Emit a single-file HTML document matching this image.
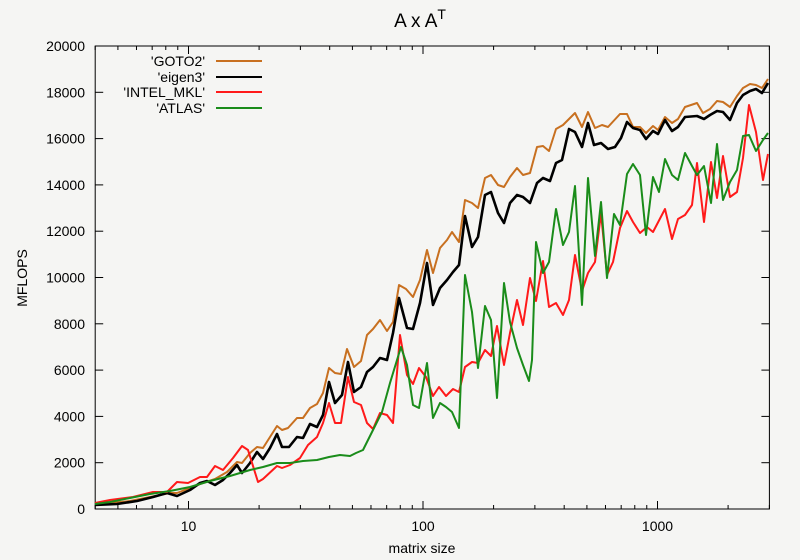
<!DOCTYPE html>
<html><head><meta charset="utf-8"><style>
html,body{margin:0;padding:0;background:#f5f5f3;}
svg{display:block;font-family:"Liberation Sans",Arial,sans-serif;}
</style></head><body>
<svg id="s" width="800" height="560" viewBox="0 0 800 560" xmlns="http://www.w3.org/2000/svg">
<rect width="800" height="560" fill="#f5f5f3"/>
<text x="420" y="27" font-size="19" text-anchor="middle" fill="#000">A x A<tspan dy="-8" font-size="14">T</tspan></text>
<text transform="translate(27,278) rotate(-90)" font-size="14" text-anchor="middle">MFLOPS</text>
<text x="422" y="553" font-size="14" text-anchor="middle">matrix size</text>
<g id="ax" stroke="#000" stroke-width="1" fill="none"></g>
<g id="lab" font-size="14" fill="#000"></g>
<g fill="none" stroke-width="2" stroke-linejoin="round">
<polyline stroke="#c87020" points="95,505 110,503 130,501 150,497 170,493 177,493 190,488 203,483 215,479 227,472 237,462 242,463 250,453 257,447 263,448 270,437 277,426 282,430 288,428 297,418 303,418 310,408 317,404 323,393 329,368 335,373 341,374 347,349 354,367 361,361 367,335 373,329 380,320 387,331 393,322 399,285 406,289 413,297 420,280 427,250 433,273 440,248 447,240 452,232 459,242 465,200 472,203 478,208 485,178 491,175 498,185 504,187 510,177 517,168 523,175 530,173 537,147 543,146 549,151 556,129 563,125 575,113 582,127 588,112 595,128 602,125 608,127 620,114 627,114 633,127 640,127 646,133 653,126 658,130 665,117 672,123 678,119 685,107 697,103 703,113 710,109 717,101 723,102 730,107 737,96 743,88 750,84 756,85 762,88 768,79"/>
<polyline stroke="#000" stroke-width="2.6" points="95,505 117,504 137,501 153,497 167,493 177,496 190,490 200,483 207,481 215,485 223,480 230,473 237,465 242,473 250,463 257,452 263,459 270,448 277,434 282,447 289,447 297,437 303,438 310,424 317,427 323,415 329,382 335,403 342,395 348,362 354,392 361,387 367,372 373,367 380,358 387,360 393,333 399,298 407,328 413,329 420,303 427,263 433,305 440,288 447,280 453,272 459,265 465,216 472,247 478,237 485,195 491,192 498,213 504,223 510,203 517,195 523,197 530,203 537,183 543,178 550,181 556,163 562,160 569,129 575,132 582,147 588,123 594,145 601,143 608,149 615,147 621,138 627,122 633,128 640,130 646,139 653,131 658,134 665,120 672,131 678,127 685,117 697,116 704,119 710,115 717,111 723,112 730,120 737,103 743,95 750,91 756,89 762,93 768,83"/>
<polyline stroke="#ff1a1a" points="95,503 110,500 133,497 153,492 167,492 177,482 188,483 200,477 207,477 215,466 223,470 233,458 242,446 248,450 258,482 263,479 277,466 282,468 290,465 300,458 308,445 317,437 323,423 329,403 335,423 341,423 348,377 354,402 361,405 367,423 373,429 380,413 387,415 393,423 400,335 407,375 413,384 419,368 426,377 433,396 439,387 446,396 453,389 459,392 465,367 472,362 478,363 485,350 491,356 497,326 504,365 510,333 517,300 523,325 530,278 536,301 543,261 549,307 556,303 563,315 569,300 575,255 582,291 588,273 595,262 601,213 607,275 613,262 620,228 627,211 633,222 640,233 647,227 653,232 665,209 672,239 678,219 685,215 692,205 697,163 704,222 711,162 717,198 723,156 730,197 737,192 743,158 749,105 756,132 763,180 768,154"/>
<polyline stroke="#1a8c1a" points="95,504 110,502 130,498 150,494 170,491 190,487 210,481 230,476 250,470 263,467 277,463 290,463 303,461 317,460 329,457 340,455 350,456 356,453 363,450 373,430 382,412 390,383 397,360 401,347 407,365 413,405 419,408 427,363 433,418 440,403 446,407 452,412 459,428 465,275 472,312 478,368 485,306 491,320 497,398 504,283 510,322 517,348 523,365 529,381 532,360 536,242 543,273 549,262 556,209 563,245 569,232 575,186 582,305 588,178 595,256 601,202 607,278 614,214 620,225 627,174 633,164 640,175 646,235 653,177 659,192 665,159 672,175 678,180 685,153 692,166 697,175 704,166 711,203 717,144 723,200 730,182 737,170 743,136 749,135 756,151 763,140 768,133"/>
</g>
<g font-size="14" text-anchor="end">
<text x="205" y="66">'GOTO2'</text>
<text x="205" y="82">'eigen3'</text>
<text x="205" y="97">'INTEL_MKL'</text>
<text x="205" y="113">'ATLAS'</text>
</g>
<g stroke-width="2">
<line x1="216" y1="61" x2="262" y2="61" stroke="#c87020"/>
<line x1="216" y1="77" x2="262" y2="77" stroke="#000"/>
<line x1="216" y1="92" x2="262" y2="92" stroke="#ff1a1a"/>
<line x1="216" y1="108" x2="262" y2="108" stroke="#1a8c1a"/>
</g>
<script>
var L=95.2,R=769.4,T=46,B=509,ns="http://www.w3.org/2000/svg";
var ax=document.getElementById('ax'),lab=document.getElementById('lab');
function ln(x1,y1,x2,y2){var e=document.createElementNS(ns,'line');e.setAttribute('x1',x1);e.setAttribute('y1',y1);e.setAttribute('x2',x2);e.setAttribute('y2',y2);ax.appendChild(e);}
function tx(x,y,s,a){var e=document.createElementNS(ns,'text');e.setAttribute('x',x);e.setAttribute('y',y);e.setAttribute('text-anchor',a);e.textContent=s;lab.appendChild(e);}
var r=document.createElementNS(ns,'rect');r.setAttribute('x',L);r.setAttribute('y',T);r.setAttribute('width',R-L);r.setAttribute('height',B-T);ax.appendChild(r);
for(var i=0;i<=10;i++){var y=B-i*(B-T)/10;ln(L,y,L+8,y);ln(R,y,R-8,y);tx(85,y+5,String(i*2000),'end');}
function X(v){return 188.5+(Math.log10(v)-1)*234.5;}
[1,10,100,1000].forEach(function(d){for(var k=1;k<10;k++){var v=d*k;if(v<4||v>3000)continue;var x=X(v);var len=(k==1)?8:4;ln(x,B,x,B-len);ln(x,T,x,T+len);if(k==1)tx(x,B+22,String(v),'middle');}});
</script>
</svg>
</body></html>
